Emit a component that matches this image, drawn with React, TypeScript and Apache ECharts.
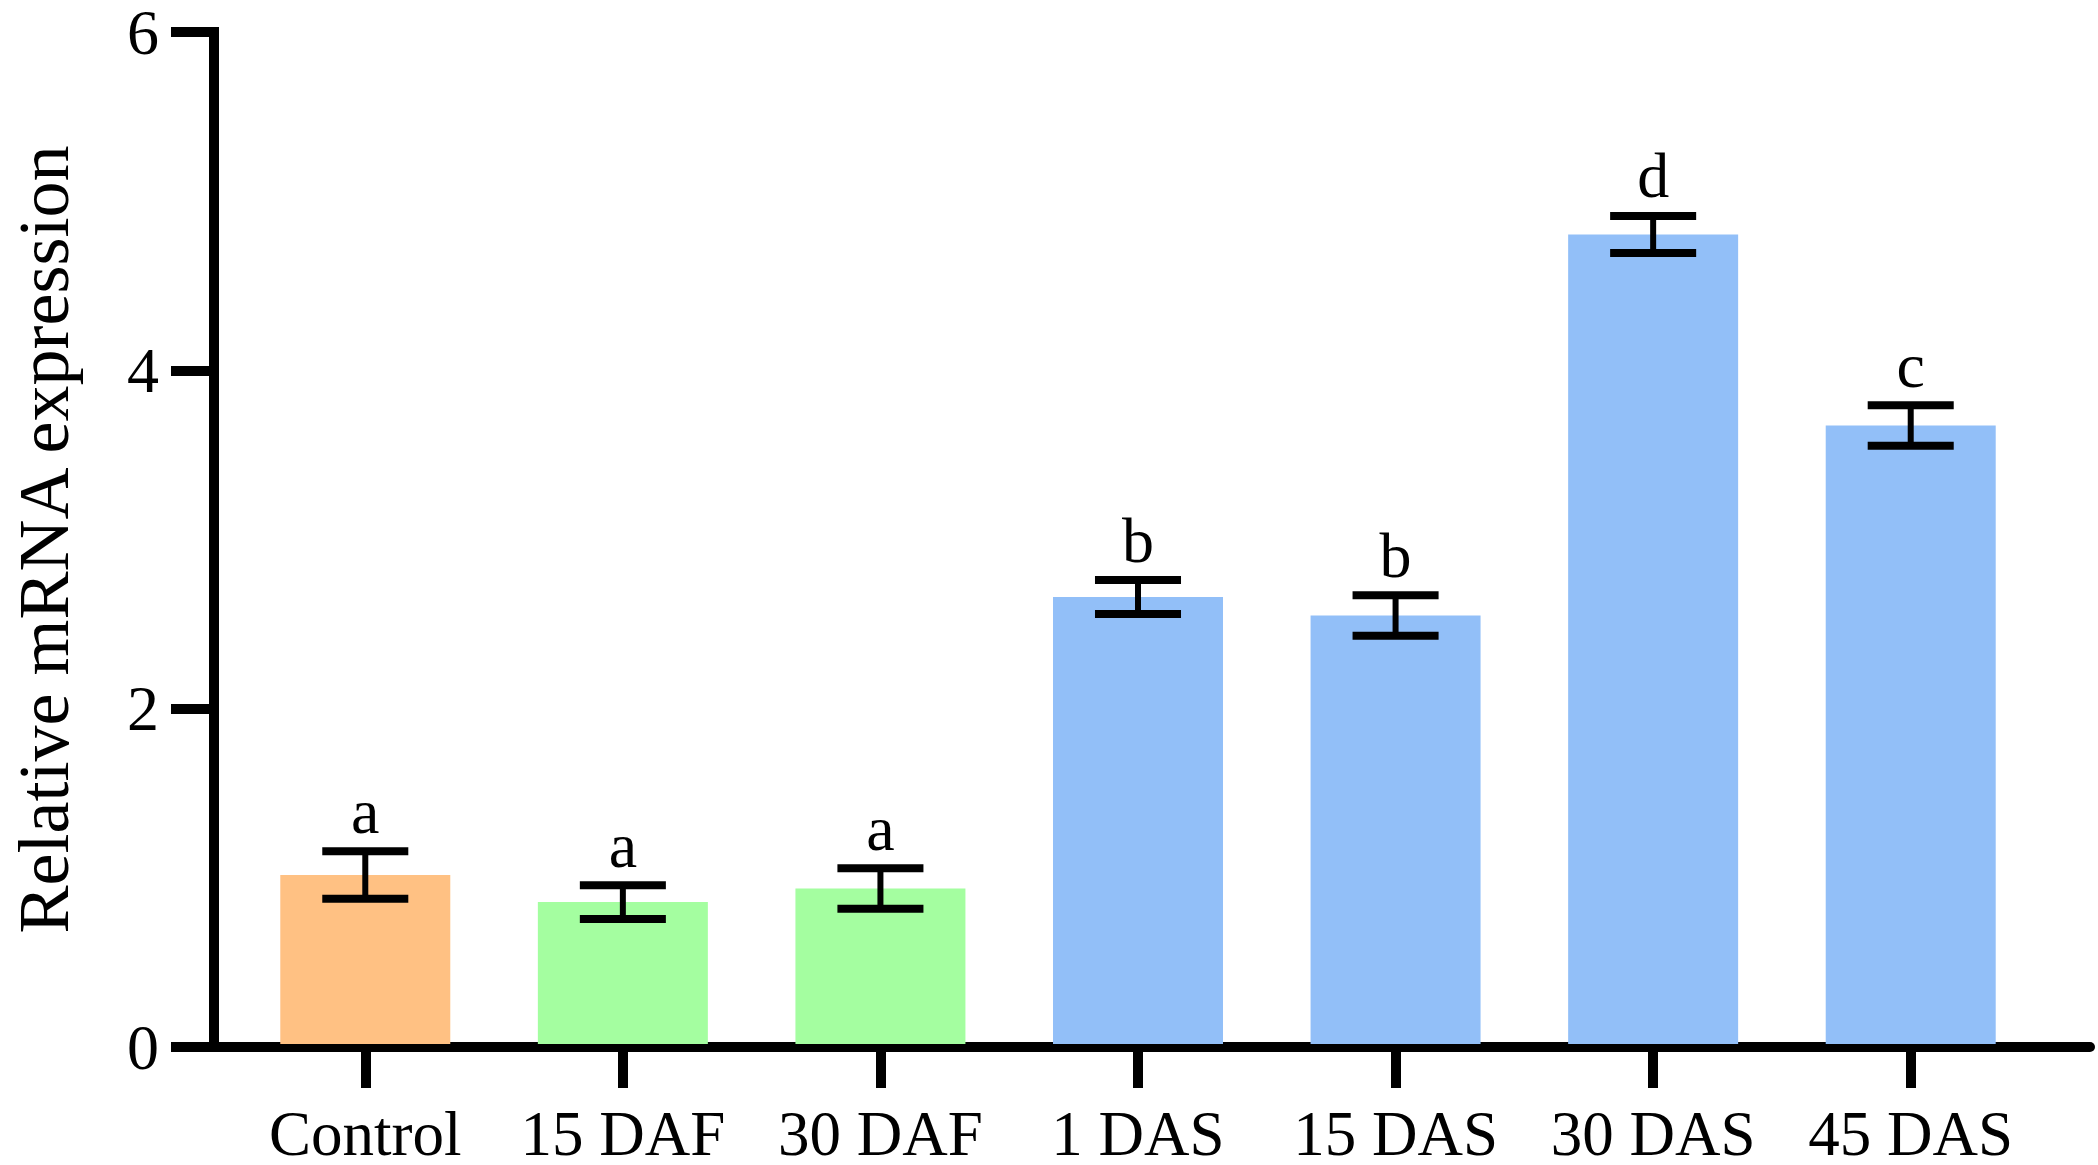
import React, { useEffect, useRef } from "react";
import * as echarts from "echarts";

const categories = ["Control", "15 DAF", "30 DAF", "1 DAS", "15 DAS", "30 DAS", "45 DAS"];
const means = [1.0, 0.84, 0.92, 2.645, 2.535, 4.79, 3.66];
const errors = [0.14, 0.1, 0.12, 0.1, 0.12, 0.11, 0.12];
const letters = ["a", "a", "a", "b", "b", "d", "c"];
const yTicks = [0, 2, 4, 6];
const barColors = ["#FFC183", "#A4FEA0", "#A4FEA0", "#92BFF8", "#92BFF8", "#92BFF8", "#92BFF8"];

const FONT = "'Times New Roman', 'Liberation Serif', serif";

export default function App() {
  const ref = useRef<HTMLDivElement>(null);
  useEffect(() => {
    if (!ref.current) return;
    const chart = echarts.init(ref.current, null, { renderer: "svg" });
    const yMin = yTicks[0];
    const yMax = yTicks[yTicks.length - 1];
    const yInterval = yTicks[1] - yTicks[0];
    chart.setOption({
      animation: false,
      backgroundColor: "#ffffff",
      grid: [
        { left: 195, right: 8, top: 30, bottom: 118, containLabel: false },
        { left: 236.5, right: 58.5, top: 30, bottom: 118, containLabel: false },
      ],
      xAxis: [
        {
          gridIndex: 0,
          type: "value",
          min: 0,
          max: 1,
          axisLine: { show: true, lineStyle: { color: "#000", width: 10 } },
          axisTick: { show: false },
          axisLabel: { show: false },
          splitLine: { show: false },
        },
        {
          gridIndex: 1,
          type: "category",
          data: categories,
          axisLine: { show: false },
          axisTick: { show: true, alignWithLabel: true, length: 44, lineStyle: { color: "#000", width: 10 } },
          axisLabel: { color: "#000", fontFamily: FONT, fontSize: 63, margin: 58, interval: 0 },
          splitLine: { show: false },
        },
      ],
      yAxis: [
        {
          gridIndex: 0,
          type: "value",
          min: yMin,
          max: yMax,
          interval: yInterval,
          name: "Relative mRNA expression",
          nameLocation: "middle",
          nameGap: 134,
          nameTextStyle: { color: "#000", fontFamily: FONT, fontSize: 72 },
          axisLine: { show: true, lineStyle: { color: "#000", width: 10, cap: "square" } },
          axisTick: { show: true, inside: false, length: 43, lineStyle: { color: "#000", width: 10 } },
          axisLabel: { color: "#000", fontFamily: FONT, fontSize: 64, margin: 55 },
          splitLine: { show: false },
        },
        {
          gridIndex: 1,
          type: "value",
          min: yMin,
          max: yMax,
          interval: yInterval,
          show: false,
        },
      ],
      series: [
        {
          type: "bar",
          xAxisIndex: 1,
          yAxisIndex: 1,
          barWidth: "66%",
          data: means.map((v, i) => ({ value: v, itemStyle: { color: barColors[i] } })),
        },
        {
          type: "custom",
          xAxisIndex: 1,
          yAxisIndex: 1,
          data: means.map((v, i) => [i, v - errors[i], v + errors[i]]),
          renderItem: (params: any, api: any) => {
            const idx = api.value(0);
            const lowP = api.coord([idx, api.value(1)]);
            const highP = api.coord([idx, api.value(2)]);
            const x = highP[0];
            const half = api.size([1, 0])[0] * 0.167;
            const letter = letters[params.dataIndex];
            return {
              type: "group",
              children: [
                { type: "line", shape: { x1: x, y1: highP[1], x2: x, y2: lowP[1] }, style: { stroke: "#000", lineWidth: 6 } },
                { type: "line", shape: { x1: x - half, y1: highP[1], x2: x + half, y2: highP[1] }, style: { stroke: "#000", lineWidth: 8 } },
                { type: "line", shape: { x1: x - half, y1: lowP[1], x2: x + half, y2: lowP[1] }, style: { stroke: "#000", lineWidth: 8 } },
                {
                  type: "text",
                  x: x,
                  y: highP[1] - 8,
                  style: { text: letter, fill: "#000", font: `64px ${FONT}`, textAlign: "center", textVerticalAlign: "bottom" },
                },
              ],
            };
          },
          z: 5,
        },
      ],
    });
    return () => chart.dispose();
  }, []);
  return <div ref={ref} style={{ position: "fixed", left: 0, top: 0, width: 2098, height: 1165 }} />;
}
